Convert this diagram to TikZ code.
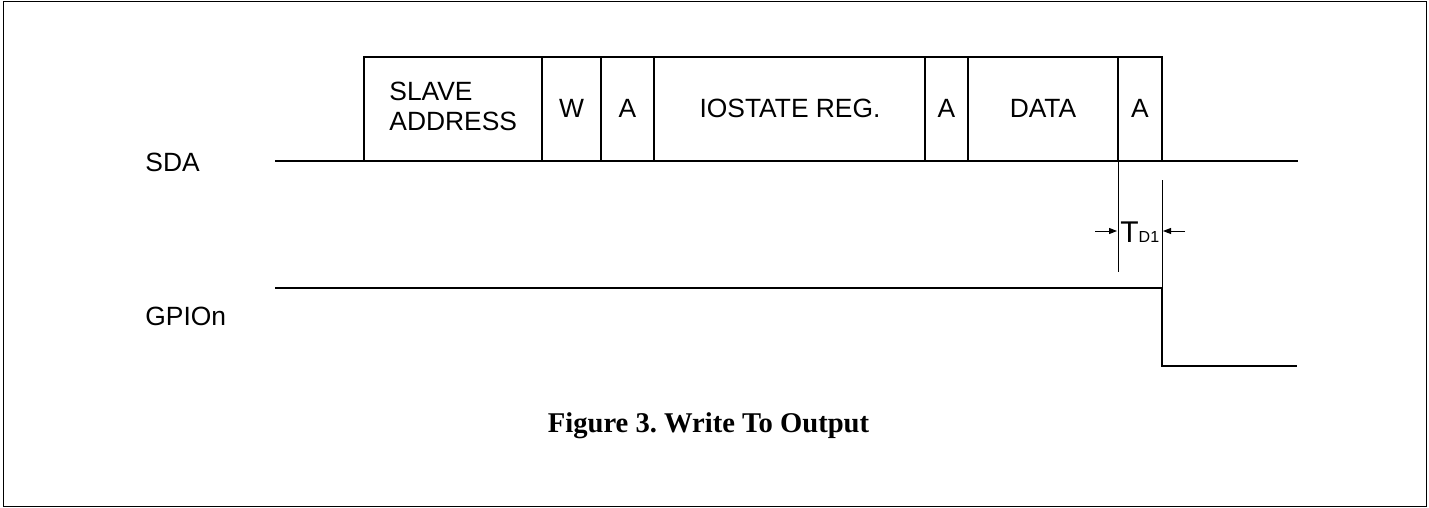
\documentclass[tikz,border=0pt]{standalone}
\usepackage{fontspec}
\setmainfont{Liberation Serif}
\setsansfont{Liberation Sans}
\usetikzlibrary{arrows.meta}
\frenchspacing
\begin{document}
\begin{tikzpicture}[x=0.5pt,y=-0.5pt,
  sig/.style={line width=1pt,line join=miter},
  thin marker/.style={line width=0.5pt},
  lbl/.style={font=\sffamily\fontsize{13.2}{15}\selectfont,inner sep=0pt},
  dimarrow/.style={line width=0.5pt,-{Triangle[length=4pt,width=3pt]}}]
\useasboundingbox (0,0) rectangle (1429,508);
\draw[line width=0.7pt] (3.5,1.5) rectangle (1426.5,506.5);
% coordinates
\coordinate (s0) at (275,161);
\coordinate (s1) at (1298,161);
\coordinate (g0) at (275,288);
\coordinate (gh) at (1162,288);
\coordinate (gl) at (1162,366);
\coordinate (g1) at (1297,366);
\coordinate (m1a) at (1118,161);
\coordinate (m1b) at (1118,272);
\coordinate (m2a) at (1162,180);
\coordinate (m2b) at (1162,288);
\coordinate (la) at (1095,231);
\coordinate (lb) at (1117,231);
\coordinate (ra) at (1185,231);
\coordinate (rb) at (1163,231);
% SDA
\draw[sig] (s0) -- (s1);
\draw[sig] (364,161) -- (364,57) -- (1162,57) -- (1162,161);
\foreach \x in {542,601,654,925,968,1118}
  \draw[sig] (\x,57) -- (\x,161);
% GPIO
\draw[sig] (g0) -- (gh) -- (gl) -- (g1);
% markers
\draw[thin marker] (m1a) -- (m1b);
\draw[thin marker] (m2a) -- (m2b);
\draw[dimarrow] (la) -- (lb);
\draw[dimarrow] (ra) -- (rb);
% labels
\node[lbl,anchor=base west] (sda) at (145,171) {SDA};
\node[lbl,anchor=base west] (gpio) at (145,325) {GPIOn};
\node[lbl,anchor=base west] (slave) at (389,101) {SLAVE};
\node[lbl,anchor=base west] (addr) at (389,131) {ADDRESS};
\node[lbl,anchor=base] (w) at (571.5,118) {W};
\node[lbl,anchor=base] (a1) at (627.5,118) {A};
\node[lbl,anchor=base] (ios) at (790,118) {IOSTATE REG.};
\node[lbl,anchor=base] (a2) at (946.5,118) {A};
\node[lbl,anchor=base] (data) at (1043,118) {DATA};
\node[lbl,anchor=base] (a3) at (1140,118) {A};
\node[inner sep=0pt,anchor=base west,font=\sffamily] (td) at (1120,242)
  {{\fontsize{15}{17}\selectfont T}{\fontsize{8}{10}\selectfont D1}};
\node[inner sep=0pt,anchor=base,font=\bfseries\fontsize{14.3}{16}\selectfont] (cap) at (708.5,432)
  {Figure 3. Write To Output};
\end{tikzpicture}
\end{document}
